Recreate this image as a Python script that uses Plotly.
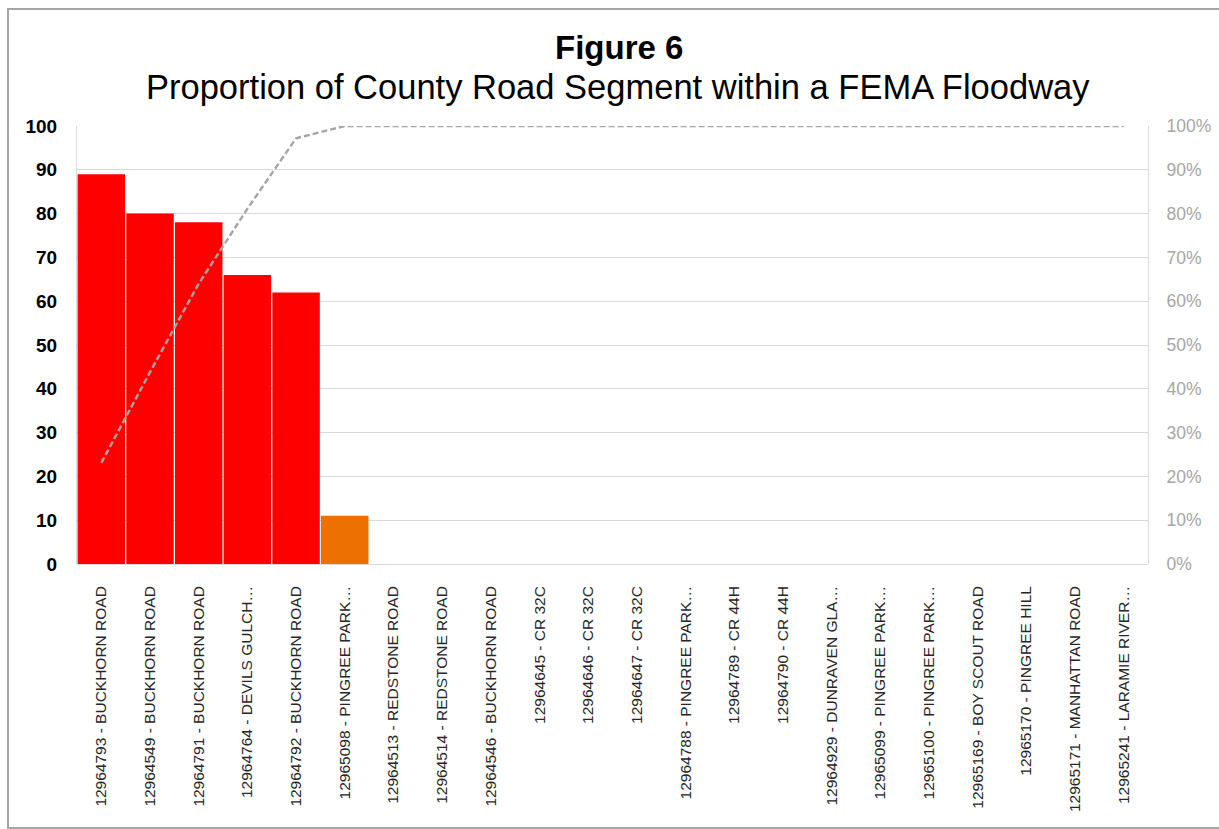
import plotly.graph_objects as go

segments = [
    "12964793 - BUCKHORN ROAD",
    "12964549 - BUCKHORN ROAD",
    "12964791 - BUCKHORN ROAD",
    "12964764 - DEVILS GULCH…",
    "12964792 - BUCKHORN ROAD",
    "12965098 - PINGREE PARK…",
    "12964513 - REDSTONE ROAD",
    "12964514 - REDSTONE ROAD",
    "12964546 - BUCKHORN ROAD",
    "12964645 - CR 32C",
    "12964646 - CR 32C",
    "12964647 - CR 32C",
    "12964788 - PINGREE PARK…",
    "12964789 - CR 44H",
    "12964790 - CR 44H",
    "12964929 - DUNRAVEN GLA…",
    "12965099 - PINGREE PARK…",
    "12965100 - PINGREE PARK…",
    "12965169 - BOY SCOUT ROAD",
    "12965170 - PINGREE HILL",
    "12965171 - MANHATTAN ROAD",
    "12965241 - LARAMIE RIVER…",
]
floodway_pct = [89, 80, 78, 66, 62, 11, 0, 0, 0, 0, 0, 0, 0, 0, 0, 0, 0, 0, 0, 0, 0, 0]
cumulative_share = [0.231, 0.438, 0.640, 0.811, 0.972, 1.0, 1.0, 1.0, 1.0, 1.0, 1.0,
                    1.0, 1.0, 1.0, 1.0, 1.0, 1.0, 1.0, 1.0, 1.0, 1.0, 1.0]
bar_colors = ["#FF0000"] * 5 + ["#ED7100"] + ["#FF0000"] * 16

W, H = 1219, 829
L, R, T, B = 77, 1148, 126, 564

def px_x(p):
    return (p - L) / (R - L)

def px_y(p):
    return (B - p) / (B - T)

fig = go.Figure()
fig.add_trace(go.Bar(
    x=segments, y=floodway_pct, marker=dict(color=bar_colors, line=dict(width=0)),
    showlegend=False, hoverinfo="x+y",
))
fig.add_trace(go.Scatter(
    x=segments, y=cumulative_share, yaxis="y2", mode="lines",
    line=dict(color="#A5A5A5", width=2.4, dash="6px,3px"),
    showlegend=False,
))

fig.update_layout(
    width=W, height=H,
    margin=dict(l=L, r=W - R, t=T, b=H - B, pad=0, autoexpand=False),
    paper_bgcolor="white", plot_bgcolor="white",
    bargap=0.025,
    font=dict(family="Liberation Sans, Arial, sans-serif"),
    xaxis=dict(
        tickangle=-90, tickfont=dict(size=15.5, color="#262626"),
        showgrid=False, ticks="", showline=False,
        ticklabelstandoff=18, automargin=False,
    ),
    yaxis=dict(
        range=[0, 100], dtick=10, tickfont=dict(size=19, color="#000000", weight="bold"),
        showgrid=True, gridcolor="#D9D9D9", gridwidth=1,
        zeroline=True, zerolinecolor="#D9D9D9", zerolinewidth=1,
        showline=True, linecolor="#D9D9D9", linewidth=1,
        ticks="", ticklabelstandoff=15, automargin=False,
    ),
    yaxis2=dict(
        overlaying="y", side="right", range=[0, 1], dtick=0.1, tickformat=".0%",
        tickfont=dict(size=17.5, color="#A6A6A6"),
        showgrid=False, zeroline=False,
        showline=True, linecolor="#D9D9D9", linewidth=1,
        ticks="", ticklabelstandoff=14, automargin=False,
    ),
    annotations=[
        dict(text="<b>Figure 6</b>", xref="paper", yref="paper",
             x=px_x(619), y=px_y(47), xanchor="center", yanchor="middle",
             showarrow=False, font=dict(size=33, color="#000000")),
        dict(text="Proportion of County Road Segment within a FEMA Floodway",
             xref="paper", yref="paper",
             x=px_x(618), y=px_y(87), xanchor="center", yanchor="middle",
             showarrow=False, font=dict(size=34.5, color="#000000")),
    ],
    shapes=[
        dict(type="rect", xref="paper", yref="paper",
             x0=px_x(8), x1=px_x(1230), y0=px_y(828), y1=px_y(9),
             line=dict(color="#A6A6A6", width=2), fillcolor="rgba(0,0,0,0)",
             layer="below"),
    ],
)

fig.write_html("out.html")
